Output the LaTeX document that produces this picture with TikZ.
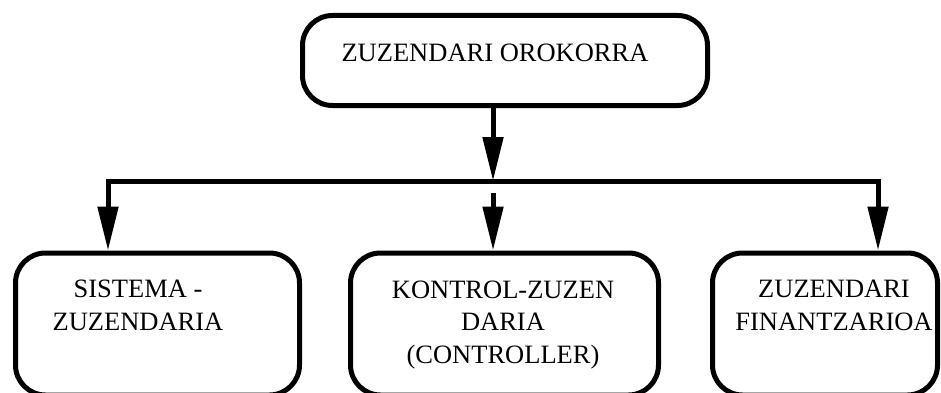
\documentclass[tikz,border=0pt]{standalone}
\usepackage{fontspec}
\setmainfont{Liberation Serif}
\usetikzlibrary{arrows.meta}

\begin{document}
\begin{tikzpicture}[x=1pt,y=1pt,
  box/.style={draw, line width=5pt, rounded corners=30pt, rectangle,
              inner sep=0pt, fill=white},
  label/.style={font=\fontsize{26.5}{32.5}\selectfont, align=center,
                anchor=base, inner sep=0pt},
  conn/.style={line width=5pt, line join=miter,
               -{Triangle[length=44pt,width=20pt]}}
]
\useasboundingbox (0,0) rectangle (941,392);
\begin{scope}
\clip (0,0) rectangle (941,392);

% boxes
\node[box, minimum width=405pt, minimum height=90pt] (top) at (505,331.5) {};
\node[box, minimum width=284pt, minimum height=142pt] (left) at (157.5,68) {};
\node[box, minimum width=308pt, minimum height=142pt] (mid) at (504.5,68) {};
\node[box, minimum width=225pt, minimum height=142pt] (right) at (825,68) {};

% texts (base anchor sits on the last line)
\node[label] (toptxt) at (495,331) {ZUZENDARI OROKORRA};
\node[label] (lefttxt) at (138,62) {SISTEMA -\\ZUZENDARIA};
\node[label] (midtxt) at (503,29) {KONTROL-ZUZEN\\DARIA\\(CONTROLLER)};
\node[label] (righttxt) at (834,62) {ZUZENDARI\\FINANTZARIOA};

% distribution bar
\coordinate (barL) at (108,211);
\coordinate (barM) at (493,211);
\coordinate (barR) at (878,211);
\coordinate (gap) at (493,199);

\draw[conn] (top.south -| barM) -- (barM);
\draw[conn] (barM) -- (barL) -- (barL |- left.north);
\draw[conn] (barM) -- (barR) -- (barR |- right.north);
\draw[conn] (gap) -- (gap |- mid.north);
\end{scope}
\end{tikzpicture}
\end{document}
